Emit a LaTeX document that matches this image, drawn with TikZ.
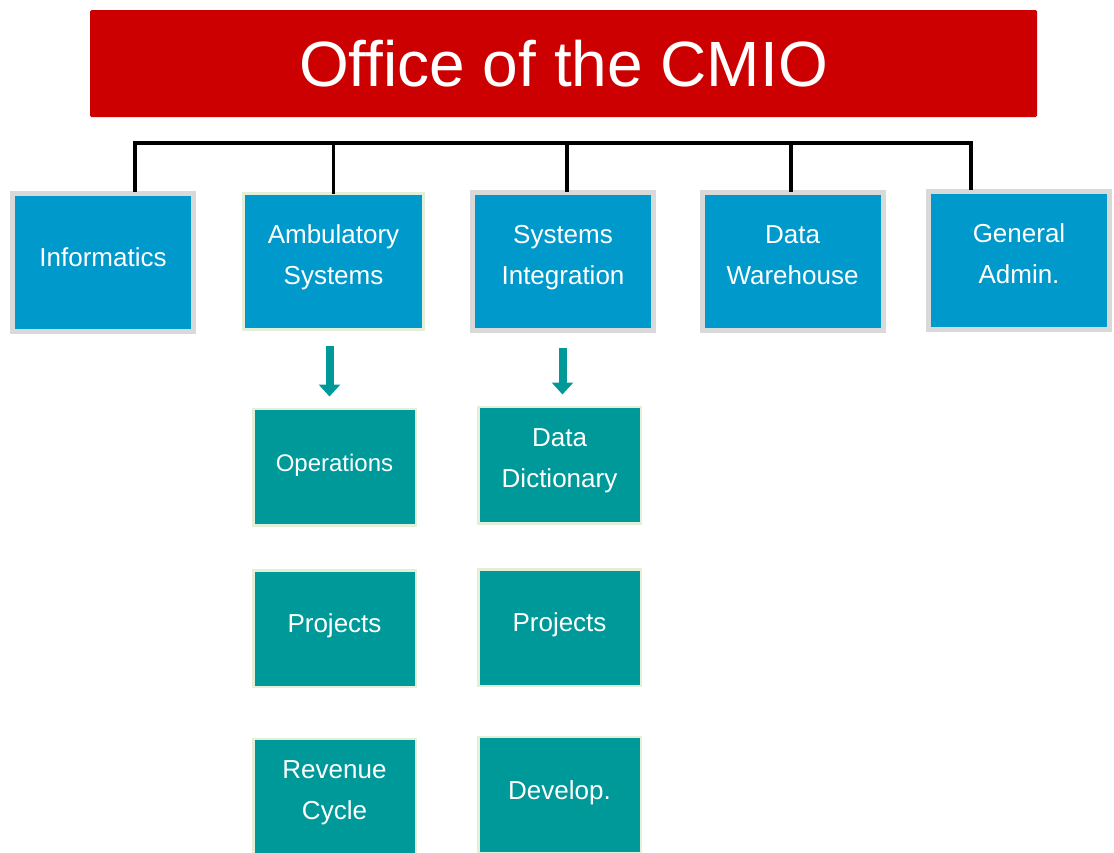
\documentclass[tikz,border=0pt]{standalone}
\usepackage{fontspec}
\setmainfont{Liberation Sans}
\usetikzlibrary{arrows.meta, positioning, calc}
\definecolor{cmiored}{HTML}{CC0000}
\definecolor{unitblue}{HTML}{0099CC}
\definecolor{subteal}{HTML}{009999}
\definecolor{rimgray}{HTML}{D9D9D9}
\definecolor{rimgreen}{HTML}{E3EFD9}

\begin{document}
\begin{tikzpicture}[x=1pt, y=1pt,
    every node/.style={text=white, align=center, font=\fontsize{26}{41}\selectfont},
    lift/.style={execute at begin node={\rule{0pt}{22pt}}, execute at end node={\rule[-13.5pt]{0pt}{13.5pt}}},
    hdr/.style={fill=cmiored, rounded corners=1.5pt, minimum width=947pt, minimum height=107pt, inner sep=0pt, font=\fontsize{64}{70}\selectfont},
    ub/.style={lift, fill=unitblue, draw=rimgray, line width=5pt, minimum width=181pt, minimum height=138pt, inner sep=0pt},
    ubg/.style={ub, draw=rimgreen, line width=3pt, minimum width=180pt, minimum height=136pt},
    sb/.style={lift, fill=subteal, draw=rimgreen, line width=2.5pt, minimum width=162.5pt, minimum height=116.5pt, inner sep=0pt},
    bus/.style={line width=3.2pt, line cap=rect},
    a/.style={-{Triangle[width=21pt, length=12pt]}, line width=8pt, subteal, shorten <=15pt, shorten >=11pt}
]
\clip (0,0) rectangle (1114,-852);
\node[hdr] (cmio) at (563.5,-63.5) {Office of the CMIO};
% top row
\node[ub]  (info)  at (103,-262)    {Informatics};
\node[ubg] (amb)   at (333.5,-261.5) {Ambulatory\\Systems};
\node[ub]  (sysi)  at (563,-261.5)  {Systems\\Integration};
\node[ub]  (dw)    at (792.5,-261.5) {Data\\Warehouse};
\node[ub]  (admin) at (1019,-260)   {General\\Admin.};
% sub units
\node[sb] (ops)   at (334.5,-467)   {\fontsize{24}{41}\selectfont Operations};
\node[sb] (aproj) at (334.5,-628.5) {Projects};
\node[sb] (rev)   at (334.5,-797)   {Revenue\\Cycle};
\node[sb] (dict)  at (559.5,-465)   {Data\\Dictionary};
\node[sb] (sproj) at (559.5,-627.5) {Projects};
\node[sb] (dev)   at (559.5,-795)   {Develop.};
% bus
\coordinate (rail) at (0,-143);
\draw[bus] ([xshift=32pt]info.north) -- ([xshift=32pt]info.north |- rail)
  -- ([xshift=-48pt]admin.north |- rail) -- ([xshift=-48pt]admin.north);
\draw[bus] (amb.north) -- (amb.north |- rail);
\draw[bus] ([xshift=4pt]sysi.north) -- ([xshift=4pt]sysi.north |- rail);
\draw[bus] ([xshift=-1.5pt]dw.north) -- ([xshift=-1.5pt]dw.north |- rail);
% arrows
\draw[a] ([xshift=-4pt]amb.south) -- ([xshift=-4pt]amb.south |- ops.north);
\draw[a] ([xshift=-0.5pt]sysi.south) -- ([xshift=-0.5pt]sysi.south |- dict.north);
\end{tikzpicture}
\end{document}
